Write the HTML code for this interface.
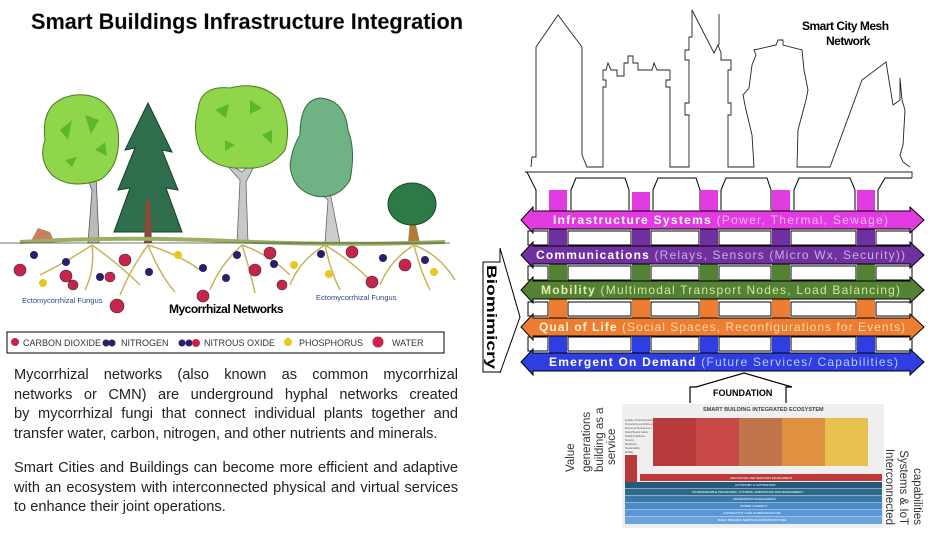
<!DOCTYPE html>
<html><head><meta charset="utf-8"><style>
html,body{margin:0;padding:0;background:#fff;width:935px;height:535px;overflow:hidden}
svg{display:block}
.p{position:absolute;left:14px;width:444px;font-family:"Liberation Sans",sans-serif;font-size:14.6px;line-height:19.5px;color:#222;margin:0}
.p div{text-align:justify;text-align-last:justify;white-space:nowrap;height:19.5px}
.p div.l{text-align-last:left}
</style></head><body>
<div style="position:relative;width:935px;height:535px">
<svg width="935" height="535" viewBox="0 0 935 535" xmlns="http://www.w3.org/2000/svg" font-family="Liberation Sans, sans-serif">
<text x="31" y="29" font-size="22" font-weight="bold" fill="#000" stroke="#888" stroke-width="0.3" textLength="432" lengthAdjust="spacingAndGlyphs">Smart Buildings Infrastructure Integration</text>

<g>
 <path d="M88 243 L92 190 L84 170 L96 175 L99 243 Z" fill="#bbb" stroke="#555" stroke-width="0.8"/>
 <path d="M45 140 Q40 100 75 95 Q110 92 118 130 Q122 165 100 180 Q70 190 52 175 Q38 160 45 140Z" fill="#8fd64a" stroke="#4a7a20" stroke-width="1"/>
 <path d="M60 130 l12 -10 l-4 20z M85 115 l14 5 l-8 14z M95 150 l10 -8 l2 14z M65 160 l12 -3 l-5 10z" fill="#5cb82a"/>
 <path d="M148 103 L125 150 L135 148 L118 190 L130 188 L114 232 L182 232 L166 188 L178 190 L162 150 L172 152 Z" fill="#2f6e4c" stroke="#173d28" stroke-width="1"/>
 <path d="M146 200 L150 200 L152 243 L144 243Z" fill="#8a4a3a"/>
 <path d="M237 243 L240 180 L222 160 L242 172 L260 155 L246 182 L248 243 Z" fill="#c8c8c8" stroke="#666" stroke-width="0.8"/>
 <path d="M198 110 Q200 85 230 88 Q260 80 280 100 Q292 125 285 150 Q270 170 245 168 Q215 170 200 150 Q192 130 198 110Z" fill="#8fd64a" stroke="#4a7a20" stroke-width="1"/>
 <path d="M215 110 l14 -6 l-3 14z M250 100 l12 8 l-12 6z M262 135 l10 -5 l0 14z M225 140 l10 5 l-10 6z" fill="#5cb82a"/>
 <path d="M325 243 L328 200 L305 180 L330 192 L340 243Z" fill="#ccc" stroke="#666" stroke-width="0.8"/>
 <path d="M300 135 Q300 100 320 98 Q345 100 348 130 Q356 150 350 180 Q338 200 315 196 Q292 190 290 165 Q292 148 300 135Z" fill="#6fb384" stroke="#2f6a40" stroke-width="1"/>
 <path d="M408 243 L410 220 L398 212 L414 216 L420 243Z" fill="#b07a3a"/>
 <ellipse cx="412" cy="204" rx="24" ry="21" fill="#2e7a46" stroke="#174a28" stroke-width="1"/>
 <path d="M30 243 L38 228 L50 232 L55 243Z" fill="#c98060"/>
 <path d="M20 242 Q120 236 230 241 T445 242" fill="none" stroke="#9ab060" stroke-width="4"/>
 <line x1="0" y1="243" x2="450" y2="243" stroke="#444" stroke-width="0.8"/>
</g>
<g stroke="#c9b25a" stroke-width="1.5" fill="none">
 <path d="M92 245 Q70 260 40 275 M92 245 Q95 270 85 290 M92 245 Q120 265 140 285"/>
 <path d="M148 245 Q130 270 120 295 M148 245 Q160 275 175 292 M148 245 Q180 255 200 270"/>
 <path d="M242 245 Q220 265 210 290 M242 245 Q250 270 255 293 M242 245 Q270 255 290 275"/>
 <path d="M325 245 Q300 260 290 285 M325 245 Q330 270 340 290 M325 245 Q350 260 370 280"/>
 <path d="M414 245 Q390 260 380 285 M414 245 Q420 270 430 290 M414 245 Q440 255 455 280"/>
</g>
<g>
 <g fill="#c8234a" stroke="#333" stroke-width="0.6">
  <circle cx="20" cy="270" r="6"/><circle cx="66" cy="276" r="6"/><circle cx="73" cy="285" r="5"/><circle cx="125" cy="260" r="6"/><circle cx="110" cy="277" r="5"/>
  <circle cx="203" cy="296" r="6"/><circle cx="255" cy="270" r="6"/><circle cx="282" cy="285" r="5"/><circle cx="270" cy="253" r="6"/><circle cx="352" cy="252" r="6"/><circle cx="372" cy="282" r="6"/><circle cx="405" cy="265" r="6"/><circle cx="117" cy="306" r="7"/>
 </g>
 <g fill="#2a1f6a"><circle cx="34" cy="255" r="4"/><circle cx="66" cy="262" r="4"/><circle cx="100" cy="277" r="4"/><circle cx="149" cy="272" r="4"/><circle cx="203" cy="268" r="4"/><circle cx="237" cy="255" r="4"/><circle cx="226" cy="278" r="4"/><circle cx="274" cy="264" r="4"/><circle cx="321" cy="254" r="4"/><circle cx="383" cy="258" r="4"/><circle cx="425" cy="260" r="4"/></g>
 <g fill="#e8c820"><circle cx="43" cy="283" r="4"/><circle cx="178" cy="255" r="4"/><circle cx="294" cy="265" r="4"/><circle cx="329" cy="274" r="4"/><circle cx="434" cy="272" r="4"/></g>
</g>
<text x="22" y="303" font-size="7.5" fill="#2a4a8a">Ectomycorrhizal Fungus</text>
<text x="316" y="300" font-size="7.5" fill="#2a4a8a">Ectomycorrhizal Fungus</text>
<text x="169" y="313" font-size="12" font-weight="bold" fill="#000" letter-spacing="-0.5">Mycorrhizal Networks</text>
<rect x="7" y="332" width="437" height="21" fill="#fff" stroke="#000" stroke-width="1"/>
<g font-size="9" fill="#333">
 <circle cx="15" cy="342" r="4" fill="#c8234a"/><text x="23" y="346">CARBON DIOXIDE</text>
 <circle cx="106" cy="343" r="3.5" fill="#2a1f6a"/><circle cx="112" cy="343" r="3.5" fill="#2a1f6a"/><text x="121" y="346">NITROGEN</text>
 <circle cx="182" cy="343" r="3.5" fill="#2a1f6a"/><circle cx="189" cy="343" r="3.5" fill="#2a1f6a"/><circle cx="196" cy="343" r="4" fill="#c8234a"/><text x="204" y="346">NITROUS OXIDE</text>
 <circle cx="288" cy="342" r="4" fill="#e8c820"/><text x="299" y="346">PHOSPHORUS</text>
 <circle cx="378" cy="342" r="5.5" fill="#c8234a"/><text x="392" y="346">WATER</text>
</g>

<g fill="none" stroke="#222" stroke-width="0.9">
 <path d="M531 167 L532 157 L536 157 L536 47 L558 15 L582 47 L582 155 L587 167 L603 167 L603 87 L606 87 L606 80 L603 80 L603 70 L606 70 L608 63 L611 70 L617 70 L617 76 L624 76 L624 63 L628 63 L628 56 L633 56 L633 63 L638 63 L638 70 L652 70 L654 63 L657 70 L670 70"/>
 <path d="M670 70 L670 80 L666 80 L666 87 L670 87 L670 167 L689 167 L689 115 L685 115 L685 103 L689 103 L689 60 L685 60 L685 50 L689 50 L689 37 L692 37 L692 10 L714 53 L718 45 L721 53 L721 60 L731 60 L731 70 L728 70 L728 103 L731 103 L731 115 L728 115 L728 167 L754 167 L752 135 L746 110 L743 95 L749 88 L752 65 L756 55 L754 50 L776 45 L778 40 L783 40 L783 45 L802 50 L804 70 L808 90 L806 100 L798 130 L797 167 L830 167 L862 80 L886 62 L893 105 L900 100 L900 78 L902 100 L905 110 L903 145 L900 155 L903 162 L910 167"/>
 <line x1="719" y1="45" x2="719" y2="14"/>
 <path d="M527 172 L912 172 L912 178"/>
</g>
<text x="802" y="30" font-size="12" font-weight="bold" fill="#000" letter-spacing="-0.5">Smart City Mesh</text>
<text x="826" y="45" font-size="12" font-weight="bold" fill="#000" letter-spacing="-0.5">Network</text>

<g stroke="#000" stroke-width="1" fill="#fff">
 <path d="M525 172 L527 172 L536 190 L536 210"/>
 <path d="M571 210 L571 190 L576 178 L625 178 L629 190 L629 210"/>
 <path d="M653 210 L653 190 L658 178 L696 178 L700 190 L700 210"/>
 <path d="M721 210 L721 190 L726 178 L767 178 L771 190 L771 210"/>
 <path d="M794 210 L794 190 L799 178 L850 178 L855 190 L855 210"/>
 <path d="M878 210 L878 190 L885 178 L912 178"/>
</g>
<g fill="#e23be2">
 <rect x="549" y="190" width="18" height="22"/><rect x="632" y="192" width="18" height="20"/><rect x="700" y="190" width="18" height="22"/><rect x="772" y="190" width="18" height="22"/><rect x="857" y="190" width="18" height="22"/>
</g>
<g stroke="#000" stroke-width="1" fill="#fff">
 <rect x="568" y="231" width="63" height="14"/><rect x="651" y="231" width="48" height="14"/><rect x="719" y="231" width="52" height="14"/><rect x="791" y="231" width="65" height="14"/><rect x="876" y="231" width="36" height="14"/><rect x="528" y="231" width="20" height="14"/>
 <rect x="568" y="266" width="63" height="14"/><rect x="651" y="266" width="48" height="14"/><rect x="719" y="266" width="52" height="14"/><rect x="791" y="266" width="65" height="14"/><rect x="876" y="266" width="36" height="14"/><rect x="528" y="266" width="20" height="14"/>
 <rect x="568" y="302" width="63" height="14"/><rect x="651" y="302" width="48" height="14"/><rect x="719" y="302" width="52" height="14"/><rect x="791" y="302" width="65" height="14"/><rect x="876" y="302" width="36" height="14"/><rect x="528" y="302" width="20" height="14"/>
 <rect x="568" y="337" width="63" height="14"/><rect x="651" y="337" width="48" height="14"/><rect x="719" y="337" width="52" height="14"/><rect x="791" y="337" width="65" height="14"/><rect x="876" y="337" width="36" height="14"/><rect x="528" y="337" width="20" height="14"/>
</g>
<g>
 <g fill="#7030a0"><rect x="549" y="228" width="18" height="20"/><rect x="632" y="228" width="18" height="20"/><rect x="700" y="228" width="18" height="20"/><rect x="772" y="228" width="18" height="20"/><rect x="857" y="228" width="18" height="20"/></g>
 <g fill="#548235"><rect x="549" y="263" width="18" height="20"/><rect x="632" y="263" width="18" height="20"/><rect x="700" y="263" width="18" height="20"/><rect x="772" y="263" width="18" height="20"/><rect x="857" y="263" width="18" height="20"/></g>
 <g fill="#ed7d31"><rect x="549" y="299" width="18" height="20"/><rect x="632" y="299" width="18" height="20"/><rect x="700" y="299" width="18" height="20"/><rect x="772" y="299" width="18" height="20"/><rect x="857" y="299" width="18" height="20"/></g>
 <g fill="#2e3ee0"><rect x="549" y="334" width="18" height="20"/><rect x="632" y="334" width="18" height="20"/><rect x="700" y="334" width="18" height="20"/><rect x="772" y="334" width="18" height="20"/><rect x="857" y="334" width="18" height="20"/></g>
</g>
<g stroke="#000" stroke-width="1">
 <path d="M521 220 L533 207 L533 211 L910 211 L910 207 L924 220 L910 233 L910 229 L533 229 L533 233 Z" fill="#e23be2"/>
 <path d="M521 255 L533 242 L533 246 L910 246 L910 242 L924 255 L910 268 L910 264 L533 264 L533 268 Z" fill="#7030a0"/>
 <path d="M521 290 L533 277 L533 281 L910 281 L910 277 L924 290 L910 303 L910 299 L533 299 L533 303 Z" fill="#548235"/>
 <path d="M521 327 L533 314 L533 318 L910 318 L910 314 L924 327 L910 340 L910 336 L533 336 L533 340 Z" fill="#ed7d31"/>
 <path d="M521 362 L533 349 L533 353 L910 353 L910 349 L924 362 L910 375 L910 371 L533 371 L533 375 Z" fill="#2e3ee0"/>
</g>
<g font-size="12" font-weight="bold">
 <text x="553" y="224" textLength="335" lengthAdjust="spacing"><tspan fill="#fff">Infrastructure Systems </tspan><tspan fill="#f6b6f6" font-weight="normal">(Power, Thermal, Sewage)</tspan></text>
 <text x="536" y="259" textLength="369" lengthAdjust="spacing"><tspan fill="#fff">Communications </tspan><tspan fill="#c9b0e0" font-weight="normal">(Relays, Sensors (Micro Wx, Security))</tspan></text>
 <text x="541" y="294" textLength="359" lengthAdjust="spacing"><tspan fill="#e8ecb0">Mobility </tspan><tspan fill="#d8e6a0" font-weight="normal">(Multimodal Transport Nodes, Load Balancing)</tspan></text>
 <text x="539" y="331" textLength="366" lengthAdjust="spacing"><tspan fill="#fff3d0">Qual of Life </tspan><tspan fill="#ffd8b0" font-weight="normal">(Social Spaces, Reconfigurations for Events)</tspan></text>
 <text x="549" y="366" textLength="349" lengthAdjust="spacing"><tspan fill="#fff">Emergent On Demand </tspan><tspan fill="#c0c8ff" font-weight="normal">(Future Services/ Capabilities)</tspan></text>
</g>
<path d="M483 262 L500 262 L500 248 L520 317 L500 373 L500 372 L483 372 Z" fill="#fff" stroke="#000" stroke-width="1"/>
<text transform="translate(487,265) rotate(90)" font-size="14" font-weight="bold" fill="#000" textLength="104" lengthAdjust="spacingAndGlyphs">Biomimicry</text>
<path d="M690 403 L690 387 L696 387 L744 373 L792 387 L786 387 L786 403" fill="#fff" stroke="#000" stroke-width="1.2"/>
<text x="713" y="396" font-size="9" font-weight="bold" fill="#000">FOUNDATION</text>

<rect x="622" y="404" width="262" height="124" fill="#efefef"/>
<text x="703" y="411" font-size="5.5" font-weight="bold" fill="#444">SMART BUILDING INTEGRATED ECOSYSTEM</text>
<g font-size="2.5" fill="#555"><text x="625" y="421">Quality of Life/Guest Experience</text><text x="625" y="425">Productivity and Efficiency</text><text x="625" y="429">Economic Development</text><text x="625" y="433">Visitor/Tenant Safety</text><text x="625" y="437">Health &amp; Wellness</text><text x="625" y="441">Security</text><text x="625" y="445">Resilience</text><text x="625" y="449">Sustainability</text><text x="625" y="453">Mobility</text></g>
<path d="M667 418 L852 418 L868 466 L653 466 Z" fill="#c9534f"/>
<rect x="653" y="418" width="43" height="48" fill="#b83b3b"/><rect x="696" y="418" width="43" height="48" fill="#c84848"/><rect x="739" y="418" width="43" height="48" fill="#c0744a"/><rect x="782" y="418" width="43" height="48" fill="#e09040"/><rect x="825" y="418" width="43" height="48" fill="#e8c050"/>
<rect x="625" y="455" width="12" height="30" fill="#b83b3b"/>
<rect x="640" y="474" width="242" height="7" fill="#c0383a"/>
<rect x="625" y="482" width="257" height="6.5" fill="#245a78"/>
<rect x="625" y="489" width="257" height="6.5" fill="#2c6a8c"/>
<rect x="625" y="496" width="257" height="6.5" fill="#3a7aa8"/>
<rect x="625" y="503" width="257" height="6.5" fill="#4a8ac8"/>
<rect x="625" y="510" width="257" height="6.5" fill="#5a96d8"/>
<rect x="625" y="517" width="257" height="7" fill="#6aa2e0"/>
<g font-size="3" fill="#fff"><text x="730" y="479">INNOVATION AND SERVICES ENABLEMENT</text><text x="735" y="486">AUTONOMY &amp; AUTOMATION</text><text x="692" y="493">INTEROPERABLE PROCESSES, SYSTEMS, OPERATIONS AND MANAGEMENT</text><text x="733" y="500">INFORMATION MANAGEMENT</text><text x="740" y="507">POWER &amp; ENERGY</text><text x="723" y="514">CONNECTIVITY AND COMMUNICATIONS</text><text x="718" y="521">BASIC BUILDING SERVICES INFRASTRUCTURE</text></g>
<g font-size="11.5" fill="#333">
 <text transform="translate(574,472) rotate(-90)">Value</text>
 <text transform="translate(590,472) rotate(-90)">generations</text>
 <text transform="translate(603,472) rotate(-90)">building as a</text>
 <text transform="translate(615,465) rotate(-90)">service</text>
 <text transform="translate(886,525) rotate(90)" text-anchor="end">Interconnected</text>
 <text transform="translate(900,525) rotate(90)" text-anchor="end">Systems &amp; IoT</text>
 <text transform="translate(914,525) rotate(90)" text-anchor="end">capabilities</text>
</g>
</svg>
<div class="p" style="top:366px">
<div>Mycorrhizal networks (also known as common mycorrhizal</div>
<div>networks or CMN) are underground hyphal networks created</div>
<div>by mycorrhizal fungi that connect individual plants together and</div>
<div class="l">transfer water, carbon, nitrogen, and other nutrients and minerals.</div>
</div>
<div class="p" style="top:459px">
<div>Smart Cities and Buildings can become more efficient and adaptive</div>
<div>with an ecosystem with interconnected physical and virtual services</div>
<div class="l">to enhance their joint operations.</div>
</div>
</div>
</body></html>
